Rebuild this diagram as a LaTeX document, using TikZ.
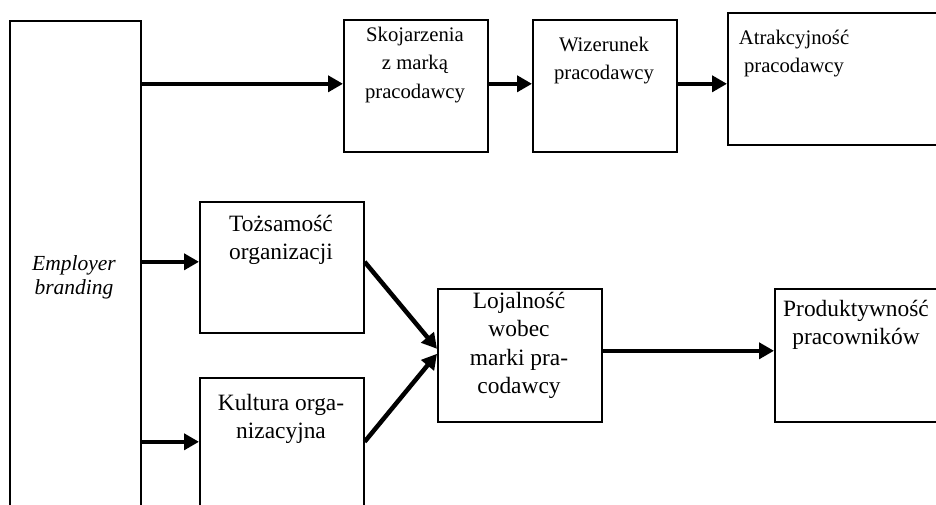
\documentclass[tikz,border=0pt]{standalone}
\usepackage{fontspec}
\setmainfont{Liberation Serif}
\usetikzlibrary{arrows.meta}

\begin{document}
\begin{tikzpicture}[x=1pt,y=-1pt]
  \tikzset{
    box/.style={draw=black,line width=1.6pt,anchor=north west,inner sep=0pt},
    txt/.style={anchor=north,align=center,inner sep=0pt,font=\fontsize{20.7}{28.3}\selectfont},
    txtb/.style={txt,font=\fontsize{23.4}{28.3}\selectfont},
    flow/.style={line width=4.5pt,-{Triangle[length=15pt,width=16pt]}}
  }
  \useasboundingbox (0,0) rectangle (936,505);
  \clip (0,0) rectangle (936,505);
  \node[box,minimum width=131pt,minimum height=530pt] (eb) at (9,20) {};
  \node[box,minimum width=144pt,minimum height=132pt] (skoj) at (343,19) {};
  \node[box,minimum width=144pt,minimum height=132pt] (wiz) at (532,19) {};
  \node[box,minimum width=240pt,minimum height=132pt] (atr) at (727,12) {};
  \node[box,minimum width=164pt,minimum height=131pt] (toz) at (199,201) {};
  \node[box,minimum width=164pt,minimum height=131pt] (kul) at (199,377) {};
  \node[box,minimum width=164pt,minimum height=133pt] (loj) at (437,288) {};
  \node[box,minimum width=200pt,minimum height=133pt] (prod) at (774,288) {};
  \node[txt,font=\itshape\fontsize{21.5}{24.5}\selectfont] (ebt) at (74,255) {Employer\\branding};
  \node[txt] (skojt) at (415,27) {Skojarzenia\\z marką\\pracodawcy};
  \node[txt] (wizt) at (604,37) {Wizerunek\\pracodawcy};
  \node[txt] (atrt) at (794,30) {Atrakcyjność\\pracodawcy};
  \node[txtb] (tozt) at (281,215) {Tożsamość\\organizacji};
  \node[txtb] (kult) at (281,394) {Kultura orga-\\nizacyjna};
  \node[txtb] (lojt) at (519,292) {Lojalność\\wobec\\marki pra-\\codawcy};
  \node[txtb] (prodt) at (856,300) {Produktywność\\pracowników};
  \coordinate (a1) at ([yshift=2pt]skoj.west);
  \coordinate (a2) at ([yshift=2pt]wiz.east);
  \coordinate (a3) at ([yshift=5.5pt]toz.west);
  \coordinate (a4) at ([yshift=1.5pt]kul.west);
  \coordinate (a5) at ([yshift=4.5pt]loj.east);
  \draw[flow] (eb.east |- a1) -- (a1);
  \draw[flow] ([yshift=2pt]skoj.east) -- ([yshift=2pt]wiz.west);
  \draw[flow] (a2) -- (a2 -| atr.west);
  \draw[flow] (eb.east |- a3) -- (a3);
  \draw[flow] (eb.east |- a4) -- (a4);
  \draw[flow] (a3 -| toz.east) -- ([yshift=6.5pt]loj.west);
  \draw[flow] (a4 -| kul.east) -- ([yshift=1.5pt]loj.west);
  \draw[flow] (a5) -- (a5 -| prod.west);
\end{tikzpicture}
\end{document}
